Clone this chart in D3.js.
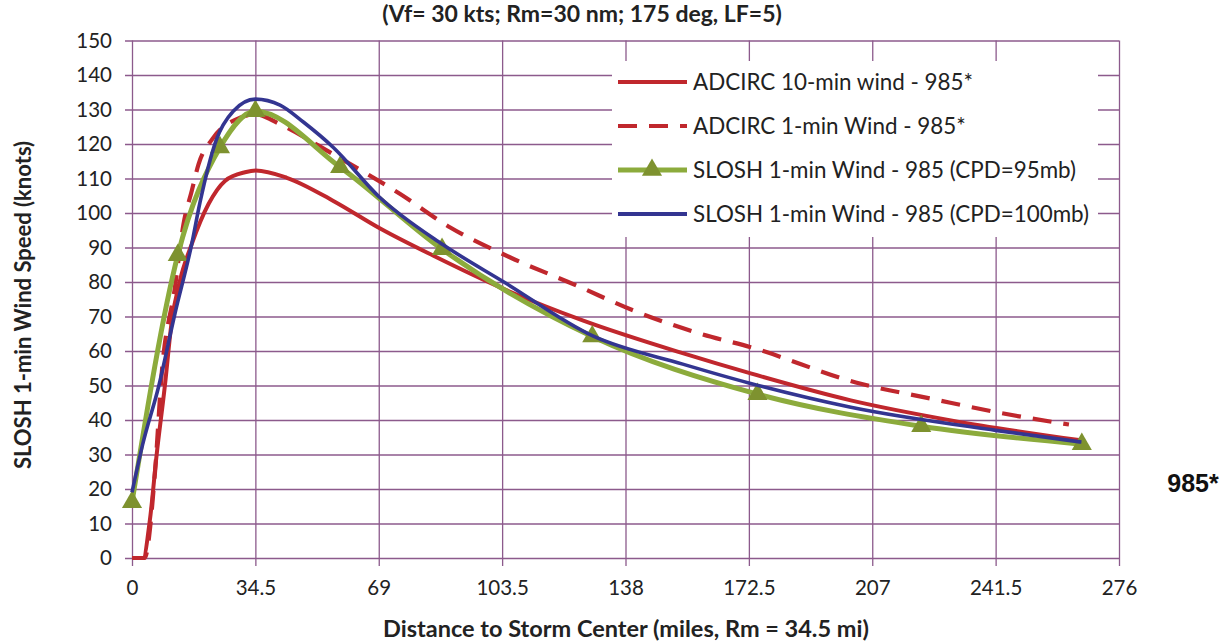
<!DOCTYPE html>
<html><head><meta charset="utf-8">
<script src="https://cdn.jsdelivr.net/npm/d3@7"></script>
<style>body{margin:0;background:#fff} svg{display:block}</style>
</head><body>
<svg id="c" width="1231" height="644"></svg>
<script>
// ---- data ----
const titleText = "(Vf= 30 kts; Rm=30 nm; 175 deg, LF=5)";
const xLabel = "Distance to Storm Center (miles, Rm = 34.5 mi)";
const yLabel = "SLOSH 1-min Wind Speed (knots)";
const sideNote = "985*";
const xTicks = [0, 34.5, 69, 103.5, 138, 172.5, 207, 241.5, 276];
const yTicks = [0,10,20,30,40,50,60,70,80,90,100,110,120,130,140,150];
const seriesNames = [
  "ADCIRC 10-min wind - 985*",
  "ADCIRC 1-min Wind - 985*",
  "SLOSH 1-min Wind - 985 (CPD=95mb)",
  "SLOSH 1-min Wind - 985 (CPD=100mb)"
];
const adcirc10 = [[0,0],[3.1,0],[5,11],[6.9,30],[9.2,50],[11.1,68.5],[13.4,80.4],[16.7,91],[21.4,102.6],[26,109.3],[31.6,111.8],[34.6,112.3],[43.3,110.2],[56.3,103.5],[69.4,95.5],[84.3,87.6],[103.9,78],[126.2,68.8],[154.2,59.3],[173,53.5],[201,45.7],[229,39.9],[265.3,34.1]];
const adcirc1 = [[0,0],[3.5,0],[6.4,24.5],[8.3,53.4],[12,78.4],[14.4,96.8],[16.7,106.4],[18.6,114.1],[22.5,121.5],[30.2,127.6],[34.6,128.6],[41.4,125.7],[56.3,117],[75,105.5],[89,95.8],[105.8,87.1],[124.5,78.9],[140.3,71.7],[159,65],[173,61.1],[203.8,50.5],[223.4,46.2],[242,42.2],[262,38.7]];
const slosh95 = [[0,16.2],[12.8,87.8],[24.6,119],[34.5,129.5],[58.2,113.3],[86.7,89.5],[128.7,64.2],[174.9,47.5],[220.7,38.2],[265.6,33]];
const slosh100 = [[0,19],[3,33],[7.4,49.5],[12,70.8],[16.7,91],[19,103],[23.5,121],[28.3,129.5],[34.5,133],[41.4,131.3],[48,126.3],[56.3,119],[69,104.8],[87,90.8],[104,80],[129,64.3],[154,56.2],[173,50.6],[201,43.7],[241.5,37],[265.5,33.6]];

// ---- layout ----
const W = 1231, H = 644;
const M = {left:132, right:112, top:40.5, bottom:86};
const svg = d3.select("#c");
const x = d3.scaleLinear().domain([0,276]).range([M.left, W - M.right]);
const y = d3.scaleLinear().domain([0,150]).range([H - M.bottom, M.top]);
const gridColor = "#8c5a8c";
const red = "#c0272d", green = "#8cab3c", marker = "#7e922f", blue = "#333591";
const font = "Lato, 'Open Sans', sans-serif";

// grid via axes
const gy = svg.append("g").attr("transform", `translate(${M.left},0)`)
  .call(d3.axisLeft(y).tickValues(yTicks).tickSize(-(W - M.left - M.right)).tickSizeOuter(0).tickPadding(20));
gy.select(".domain").remove();
gy.selectAll(".tick line").attr("stroke", gridColor).attr("stroke-width", 1.3).attr("transform","translate(-7,0)")
  .attr("x2", W - M.left - M.right + 7);
gy.selectAll(".tick text").attr("font-family", font).attr("font-size", 20.5).attr("fill", "#222");

const gx = svg.append("g").attr("transform", `translate(0,${H - M.bottom})`)
  .call(d3.axisBottom(x).tickValues(xTicks).tickFormat(d => String(d)).tickSize(8).tickSizeOuter(0).tickPadding(14));
gx.select(".domain").remove();
gx.selectAll(".tick line").attr("stroke", gridColor).attr("stroke-width", 1.3).attr("y1", -(H - M.bottom - M.top));
gx.selectAll(".tick text").attr("font-family", font).attr("font-size", 20.5).attr("fill", "#222");

// lines
const line = d3.line().x(d => x(d[0])).y(d => y(d[1])).curve(d3.curveMonotoneX);
const plot = svg.append("g");
plot.append("path").datum(adcirc10).attr("d", line).attr("fill","none").attr("stroke", red).attr("stroke-width", 4);
plot.append("path").datum(adcirc1).attr("d", line).attr("fill","none").attr("stroke", red).attr("stroke-width", 4.2).attr("stroke-dasharray","19,12");
plot.append("path").datum(slosh95).attr("d", line).attr("fill","none").attr("stroke", green).attr("stroke-width", 5);
const tri = d3.symbol(d3.symbolTriangle, 175);
plot.selectAll("path.mk").data(slosh95).join("path").attr("class","mk")
  .attr("d", tri).attr("transform", d => `translate(${x(d[0])},${y(d[1])})`).attr("fill", marker);
plot.append("path").datum(slosh100).attr("d", line).attr("fill","none").attr("stroke", blue).attr("stroke-width", 3.6);

// legend
const lg = svg.append("g");
lg.append("rect").attr("x", 612).attr("y", 61).attr("width", 486).attr("height", 176).attr("fill", "#fff");
const styles = [
  {c:red, w:4, dash:null, mk:false},
  {c:red, w:4.2, dash:"19,12", mk:false},
  {c:green, w:5, dash:null, mk:true},
  {c:blue, w:4, dash:null, mk:false}
];
seriesNames.forEach((name, i) => {
  const yy = 82 + i * 44;
  const s = styles[i];
  lg.append("line").attr("x1", 618).attr("x2", 687).attr("y1", yy).attr("y2", yy)
    .attr("stroke", s.c).attr("stroke-width", s.w).attr("stroke-dasharray", s.dash);
  if (s.mk) lg.append("path").attr("d", tri).attr("transform", `translate(652,${yy})`).attr("fill", marker);
  lg.append("text").attr("x", 693).attr("y", yy).attr("dy", "0.35em")
    .attr("font-family", font).attr("font-size", 22.4).attr("fill", "#222").text(name);
});

// titles
svg.append("text").attr("x", 582).attr("y", 14).attr("dy","0.35em").attr("text-anchor","middle")
  .attr("font-family", font).attr("font-weight","bold").attr("font-size", 23).attr("fill","#222").text(titleText);
svg.append("text").attr("x", 626).attr("y", 629).attr("dy","0.35em").attr("text-anchor","middle")
  .attr("font-family", font).attr("font-weight","bold").attr("font-size", 23.5).attr("fill","#222").text(xLabel);
svg.append("text").attr("transform","translate(23,305) rotate(-90)").attr("dy","0.35em").attr("text-anchor","middle")
  .attr("font-family", font).attr("font-weight","bold").attr("font-size", 22).attr("fill","#222").text(yLabel);
svg.append("text").attr("x", 1193).attr("y", 483).attr("dy","0.35em").attr("text-anchor","middle")
  .attr("font-family", "'Liberation Sans', Arial, sans-serif").attr("font-weight","bold").attr("font-size", 25).attr("fill","#111").text(sideNote);
</script>
</body></html>
